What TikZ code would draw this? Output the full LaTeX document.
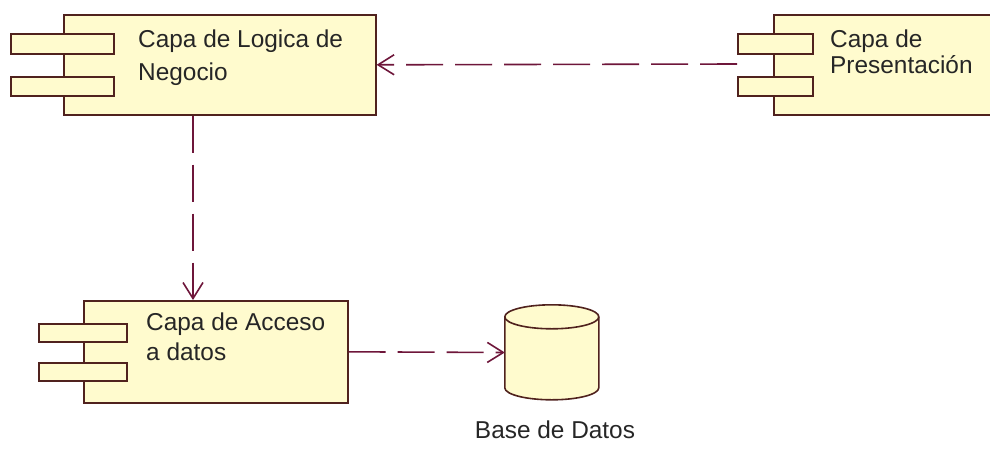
\documentclass[tikz,border=0pt]{standalone}
\usepackage{fontspec}
\setmainfont{Liberation Sans}
\usetikzlibrary{arrows.meta}
\definecolor{compfill}{RGB}{255,251,206}
\definecolor{compdraw}{RGB}{80,34,30}
\definecolor{linkcol}{RGB}{110,22,58}
\tikzset{
  comp/.style={draw=compdraw, fill=compfill, line width=1.6pt, inner sep=0pt, anchor=north west},
  port/.style={draw=compdraw, fill=compfill, line width=1.6pt, inner sep=0pt, anchor=north west},
  lbl/.style={font=\fontsize{24.4}{30}\selectfont, text=black!85, inner sep=0pt, anchor=base west},
  dep/.style={draw=linkcol, line width=1.6pt, dash pattern=on 37pt off 12pt,
              -{Straight Barb[length=16pt,width=20pt,line width=1.6pt]}}
}
\begin{document}
\begin{tikzpicture}[x=1pt,y=1pt]
\useasboundingbox (0,0) rectangle (990,-451);
\clip (0,0) rectangle (990,-451);
% Capa de Logica de Negocio
\node[comp, minimum width=312pt, minimum height=100pt] (l) at (63,-14) {};
\node[port, minimum width=103pt, minimum height=20pt] (lp1) at (10,-33) {};
\node[port, minimum width=103pt, minimum height=19pt] (lp2) at (10,-76) {};
\node[lbl] (lt1) at (138,-47) {Capa de Logica de};
\node[lbl] (lt2) at (138,-80) {Negocio};
% Capa de Presentacion
\node[comp, minimum width=240pt, minimum height=100pt] (p) at (773,-14) {};
\node[port, minimum width=75pt, minimum height=20pt] (pp1) at (737,-33) {};
\node[port, minimum width=75pt, minimum height=19pt] (pp2) at (737,-76) {};
\node[lbl] (pt1) at (830,-47) {Capa de};
\node[lbl] (pt2) at (830,-73) {Presentación};
% Capa de Acceso a datos
\node[comp, minimum width=264pt, minimum height=102pt] (a) at (83,-300) {};
\node[port, minimum width=88pt, minimum height=18pt] (ap1) at (38,-323) {};
\node[port, minimum width=88pt, minimum height=18pt] (ap2) at (38,-362) {};
\node[lbl] (at1) at (146,-330) {Capa de Acceso};
\node[lbl] (at2) at (146,-360) {a datos};
% Base de Datos
\node[inner sep=0pt, minimum width=94pt, minimum height=95pt] (db) at (552,-352.5) {};
\draw[draw=compdraw, fill=compfill, line width=1.6pt]
  (db.north west) ++(0,-12) coordinate (dbtl)
  -- ++(0,-71) arc[start angle=180,end angle=360,x radius=47pt,y radius=12pt]
  -- ++(0,71) arc[start angle=0,end angle=180,x radius=47pt,y radius=12pt] -- cycle;
\draw[draw=compdraw, line width=1.6pt]
  (dbtl) arc[start angle=180,end angle=360,x radius=47pt,y radius=12pt];
\node[font=\fontsize{24.4}{30}\selectfont, text=black!85, inner sep=0pt, anchor=base] (dbt) at (555,-438) {Base de Datos};
% connectors
\coordinate (pstart) at (737,-64);
\coordinate (vx) at (193,0);
\draw[dep] (pstart) -- (l.east);
\draw[dep] (l.south -| vx) -- (a.north -| vx);
\draw[dep] (a.east) -- (db.west);
\end{tikzpicture}
\end{document}
